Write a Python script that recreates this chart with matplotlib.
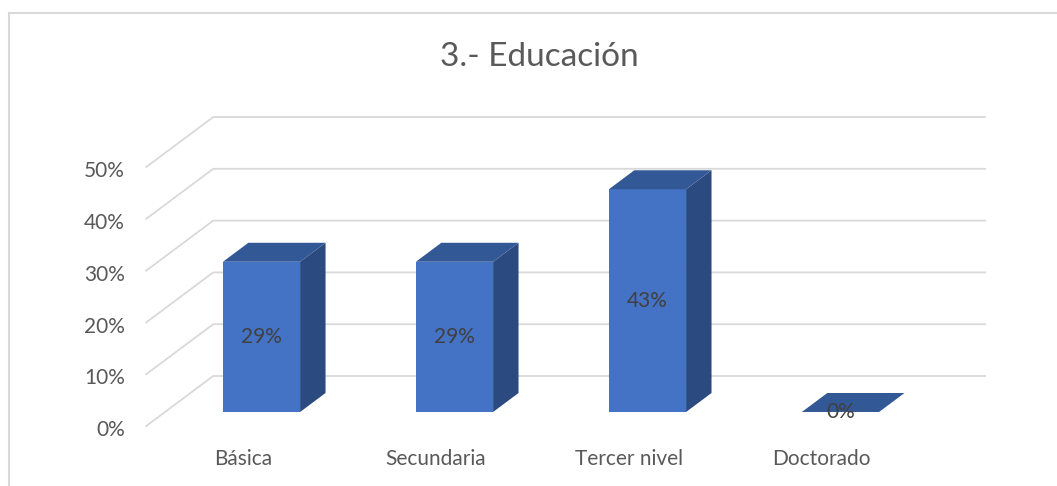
import matplotlib.pyplot as plt
from matplotlib.patches import Polygon
from matplotlib.lines import Line2D

# data
categories = ["Básica", "Secundaria", "Tercer nivel", "Doctorado"]
values = [0.29, 0.29, 0.43, 0.0]
labels = ["29%", "29%", "43%", "0%"]
ticks = [0.0, 0.1, 0.2, 0.3, 0.4, 0.5]
tick_labels = ["0%", "10%", "20%", "30%", "40%", "50%"]

# fake 3d depth (in data units per full floor depth)
DX, DY = 0.347, 0.0965
Z_FRONT, Z_BACK, Z_BAR = -0.28, 0.72, 0.38
BAR_W = 0.4
FRONT_C, SIDE_C, TOP_C = "#4472C4", "#2B4A80", "#335896"
GRID_C = "#D9D9D9"
TXT_C = "#595959"
FS = 15

plt.rcParams["font.family"] = ["Lato", "DejaVu Sans"]

fig = plt.figure(figsize=(10.57, 4.86), dpi=100)
ax = fig.add_axes([0, 0, 1, 1])
ax.set_xlim(-1.355, 4.122)
ax.set_ylim(-0.1429, 0.7954)
ax.axis("off")


def proj(x, y, z):
    return x + z * DX, y + z * DY


# gridlines: front diagonal + back wall
x0, x1 = -0.5, 3.5
for t, tl in zip(ticks, tick_labels):
    fx, fy = proj(x0, t, Z_FRONT)
    bx, by = proj(x0, t, Z_BACK)
    ex, ey = proj(x1, t, Z_BACK)
    ax.plot([fx, bx, ex], [fy, by, ey], color=GRID_C, lw=1.3, zorder=1)
    ax.text(fx - 0.11, fy - 0.008, tl, ha="right", va="center",
            fontsize=FS, color=TXT_C)

# bars
xs = list(range(len(values)))
for x, v in zip(xs, values):
    l, r = x - BAR_W / 2, x + BAR_W / 2
    if v > 0:
        ax.bar(x, v, width=BAR_W, color=FRONT_C, zorder=3)
        side = [proj(r, 0, 0), proj(r, 0, Z_BAR), proj(r, v, Z_BAR), proj(r, v, 0)]
        ax.add_patch(Polygon(side, closed=True, color=SIDE_C, zorder=3, lw=0))
    top = [proj(l, v, 0), proj(r, v, 0), proj(r, v, Z_BAR), proj(l, v, Z_BAR)]
    ax.add_patch(Polygon(top, closed=True, color=TOP_C, zorder=3, lw=0))

for x, v, lab in zip(xs, values, labels):
    ax.text(x, v / 2, lab, ha="center", va="center", fontsize=FS,
            color="#404040", zorder=5)

for x, c in zip(xs, categories):
    cx, _ = proj(x, 0, Z_FRONT)
    ax.text(cx, -0.0907, c, ha="center", va="center", fontsize=FS, color=TXT_C)

ax.text(539 / 1057, 1 - 57 / 486, "3.- Educación", transform=ax.transAxes,
        ha="center", va="center", fontsize=24, color=TXT_C)

# chart border (top and left visible)
fig.add_artist(Line2D([9 / 1057, 1], [1 - 13 / 486, 1 - 13 / 486],
                      color=GRID_C, lw=1.5, transform=fig.transFigure))
fig.add_artist(Line2D([9 / 1057, 9 / 1057], [0, 1 - 13 / 486],
                      color=GRID_C, lw=1.5, transform=fig.transFigure))

fig.savefig("out.png", dpi=100, facecolor="white")
